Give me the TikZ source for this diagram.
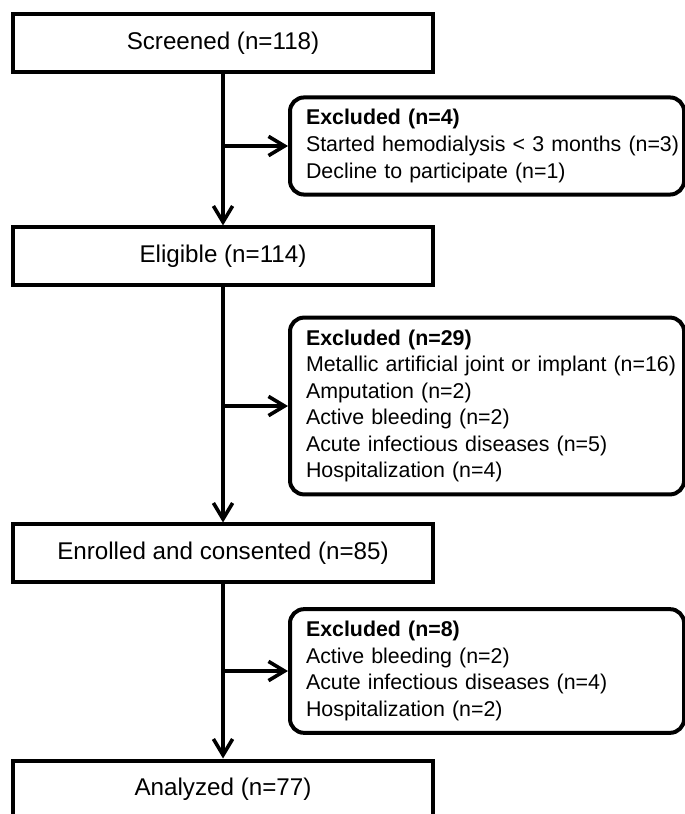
\documentclass[tikz,border=0pt]{standalone}
\usepackage{fontspec}
\setmainfont{Liberation Sans}
\usetikzlibrary{arrows.meta,positioning}

\begin{document}
\begin{tikzpicture}[
  x=0.025cm, y=-0.025cm,
  stagebox/.style={rectangle, draw, line width=0.1cm, minimum width=10.5cm,
    minimum height=1.425cm, font=\fontsize{17.2pt}{20pt}\selectfont},
  exclbox/.style={rectangle, rounded corners=0.35cm, draw, line width=0.1cm,
    anchor=west, align=left, text width=9.05cm, inner xsep=0.4cm,
    inner ysep=0.3cm, font=\fontsize{15.2pt}{18.9pt}\selectfont},
  arrow/.style={-{Straight Barb[length=0.4cm, width=0.48cm]}, line width=0.09cm}
]
  \path[use as bounding box, fill=white] (0,0) rectangle (684,814);

  % Stages of the study.
  \node[stagebox] (screened) at (223,43) {Screened (n=118)};
  \node[stagebox] (eligible) at (223,256) {Eligible (n=114)};
  \node[stagebox] (enrolled) at (223,553) {Enrolled and consented (n=85)};
  \node[stagebox] (analyzed) at (223,789) {Analyzed (n=77)};

  % Exclusions.
  \node[exclbox] (exone) at (288,146) {\textbf{Excluded (n=4)}\\
    \mbox{Started hemodialysis < 3 months (n=3)}\\
    Decline to participate (n=1)};
  \node[exclbox] (extwo) at (288,406) {\textbf{Excluded (n=29)}\\
    \mbox{Metallic artificial joint or implant (n=16)}\\
    Amputation (n=2)\\
    Active bleeding (n=2)\\
    Acute infectious diseases (n=5)\\
    Hospitalization (n=4)};
  \node[exclbox] (exthree) at (288,671) {\textbf{Excluded (n=8)}\\
    Active bleeding (n=2)\\
    Acute infectious diseases (n=4)\\
    Hospitalization (n=2)};

  % Flow.
  \draw[arrow] (screened) -- (eligible);
  \draw[arrow] (eligible) -- (enrolled);
  \draw[arrow] (enrolled) -- (analyzed);
  \draw[arrow] (exone.west -| screened.south) -- (exone.west);
  \draw[arrow] (extwo.west -| eligible.south) -- (extwo.west);
  \draw[arrow] (exthree.west -| enrolled.south) -- (exthree.west);
\end{tikzpicture}
\end{document}
